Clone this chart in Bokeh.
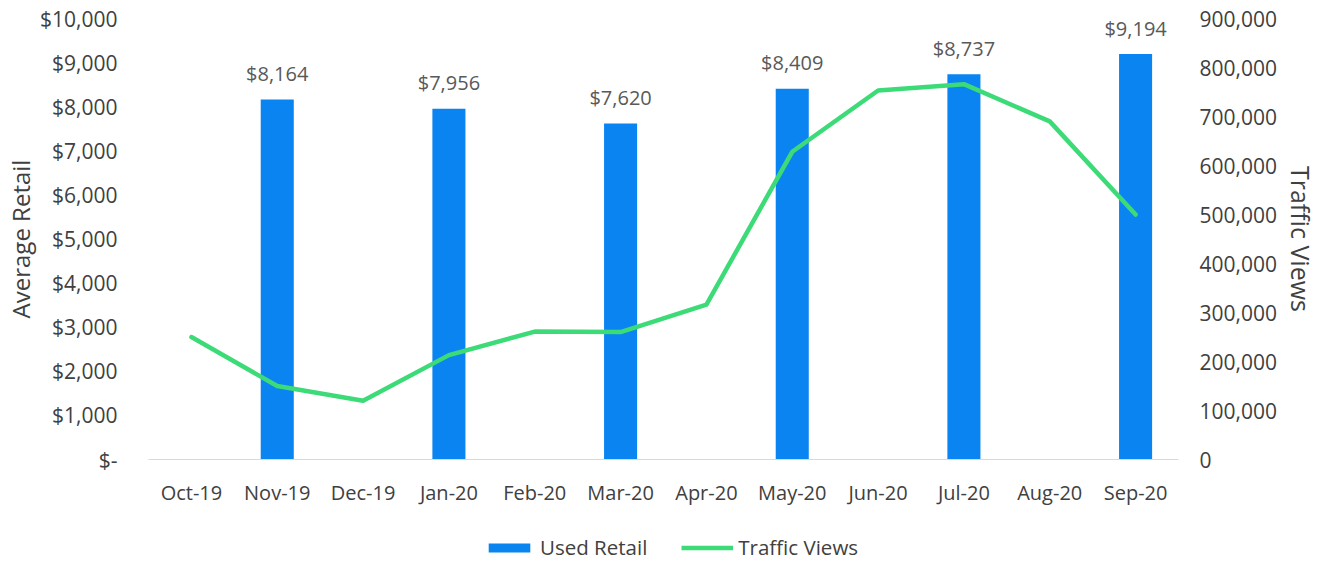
from bokeh.plotting import figure
from bokeh.layouts import column
from bokeh.models import FactorRange, Range1d, LinearAxis, Legend, LegendItem, FixedTicker
from bokeh.core.properties import value
from bokeh.embed import file_html
from bokeh.resources import INLINE

# ---- data ----
months = ["Oct-19", "Nov-19", "Dec-19", "Jan-20", "Feb-20", "Mar-20",
          "Apr-20", "May-20", "Jun-20", "Jul-20", "Aug-20", "Sep-20"]
traffic_views = [250000, 150000, 120000, 213000, 261000, 260000,
                 316000, 628000, 753000, 766000, 690000, 500000]
bar_months = ["Nov-19", "Jan-20", "Mar-20", "May-20", "Jul-20", "Sep-20"]
used_retail = [8164, 7956, 7620, 8409, 8737, 9194]
bar_labels = ["$8,164", "$7,956", "$7,620", "$8,409", "$8,737", "$9,194"]

retail_ticks = [0, 1000, 2000, 3000, 4000, 5000, 6000, 7000, 8000, 9000, 10000]
retail_tick_labels = ["$-", "$1,000", "$2,000", "$3,000", "$4,000", "$5,000",
                      "$6,000", "$7,000", "$8,000", "$9,000", "$10,000"]
traffic_ticks = [0, 100000, 200000, 300000, 400000, 500000, 600000, 700000, 800000, 900000]
traffic_tick_labels = ["0", "100,000", "200,000", "300,000", "400,000", "500,000",
                       "600,000", "700,000", "800,000", "900,000"]

FONT = "Open Sans"
TXT = "#404040"
LBL = "#595959"
BLUE = "#0A84F0"
GREEN = "#3DDB78"

p = figure(x_range=FactorRange(*months, range_padding=0),
           y_range=Range1d(0, 10000),
           width=1323, height=529,
           output_backend="svg", toolbar_location=None,
           min_border_left=148, min_border_right=145,
           min_border_top=18, min_border_bottom=70)
p.title.visible = False
p.extra_y_ranges = {"traffic": Range1d(0, 900000)}
p.outline_line_color = None
p.xgrid.visible = False
p.ygrid.visible = False
p.background_fill_color = "white"
p.border_fill_color = "white"

bars = p.vbar(x=bar_months, top=used_retail, width=0.385, fill_color=BLUE, line_color=None)
line = p.line(x=months, y=traffic_views, y_range_name="traffic",
              line_color=GREEN, line_width=4.5, line_join="round", line_cap="round")

p.text(x=bar_months, y=used_retail, text=bar_labels,
       text_align="center", text_baseline="middle", y_offset=-26,
       text_font=value(FONT), text_font_size="20px", text_color=LBL)

# x axis
xa = p.xaxis[0]
xa.axis_line_color = "#d9d9d9"
xa.axis_line_width = 1
xa.major_tick_line_color = None
xa.minor_tick_line_color = None
xa.major_tick_out = 0
xa.major_label_standoff = 19
xa.major_label_text_font = FONT
xa.major_label_text_font_size = "20px"
xa.major_label_text_color = TXT

# left axis
ya = p.yaxis[0]
ya.ticker = FixedTicker(ticks=retail_ticks)
ya.major_label_overrides = {t: l for t, l in zip(retail_ticks, retail_tick_labels)}
ya.axis_line_color = None
ya.major_tick_line_color = None
ya.minor_tick_line_color = None
ya.major_tick_out = 0
ya.major_label_standoff = 31
ya.major_label_text_font = FONT
ya.major_label_text_font_size = "21px"
ya.major_label_text_color = TXT
ya.axis_label = "Average Retail"
ya.axis_label_text_font = FONT
ya.axis_label_text_font_size = "24px"
ya.axis_label_text_font_style = "normal"
ya.axis_label_text_color = TXT
ya.axis_label_standoff = 0

# right axis
ra = LinearAxis(y_range_name="traffic", ticker=FixedTicker(ticks=traffic_ticks))
ra.major_label_overrides = {t: l for t, l in zip(traffic_ticks, traffic_tick_labels)}
ra.axis_line_color = None
ra.major_tick_line_color = None
ra.minor_tick_line_color = None
ra.major_tick_out = 0
ra.major_label_standoff = 21
ra.major_label_text_font = FONT
ra.major_label_text_font_size = "21px"
ra.major_label_text_color = TXT
ra.axis_label = "Traffic Views"
ra.axis_label_text_font = FONT
ra.axis_label_text_font_size = "25px"
ra.axis_label_text_font_style = "normal"
ra.axis_label_text_color = TXT
ra.axis_label_standoff = 4
p.add_layout(ra, "right")

# legend strip below the chart: same series drawn below its visible range,
# so only their legend glyphs show
lf = figure(width=1323, height=32, x_range=FactorRange(*months, range_padding=0),
            y_range=Range1d(1000000, 1000001),
            output_backend="svg", toolbar_location=None,
            x_axis_location=None, y_axis_location=None,
            min_border_left=0, min_border_right=0, min_border_top=0, min_border_bottom=0)
lf.title.visible = False
lf.outline_line_color = None
lf.xgrid.visible = False
lf.ygrid.visible = False
lbar = lf.vbar(x=bar_months, top=used_retail, width=0.385, fill_color=BLUE, line_color=None)
lline = lf.line(x=months, y=traffic_views, line_color=GREEN, line_width=4.5, line_cap="butt")

legend = Legend(items=[LegendItem(label="Used Retail", renderers=[lbar]),
                       LegendItem(label="Traffic Views", renderers=[lline])],
                orientation="horizontal", location=(335, 0),
                label_text_font=FONT, label_text_font_size="20.5px",
                label_text_color=TXT,
                glyph_width=52, glyph_height=11, label_standoff=5,
                spacing=34, padding=0, margin=0,
                border_line_color=None, background_fill_alpha=0)
lf.add_layout(legend, "center")

layout = column(p, lf, spacing=0)
open("out.html", "w").write(file_html(layout, INLINE))
